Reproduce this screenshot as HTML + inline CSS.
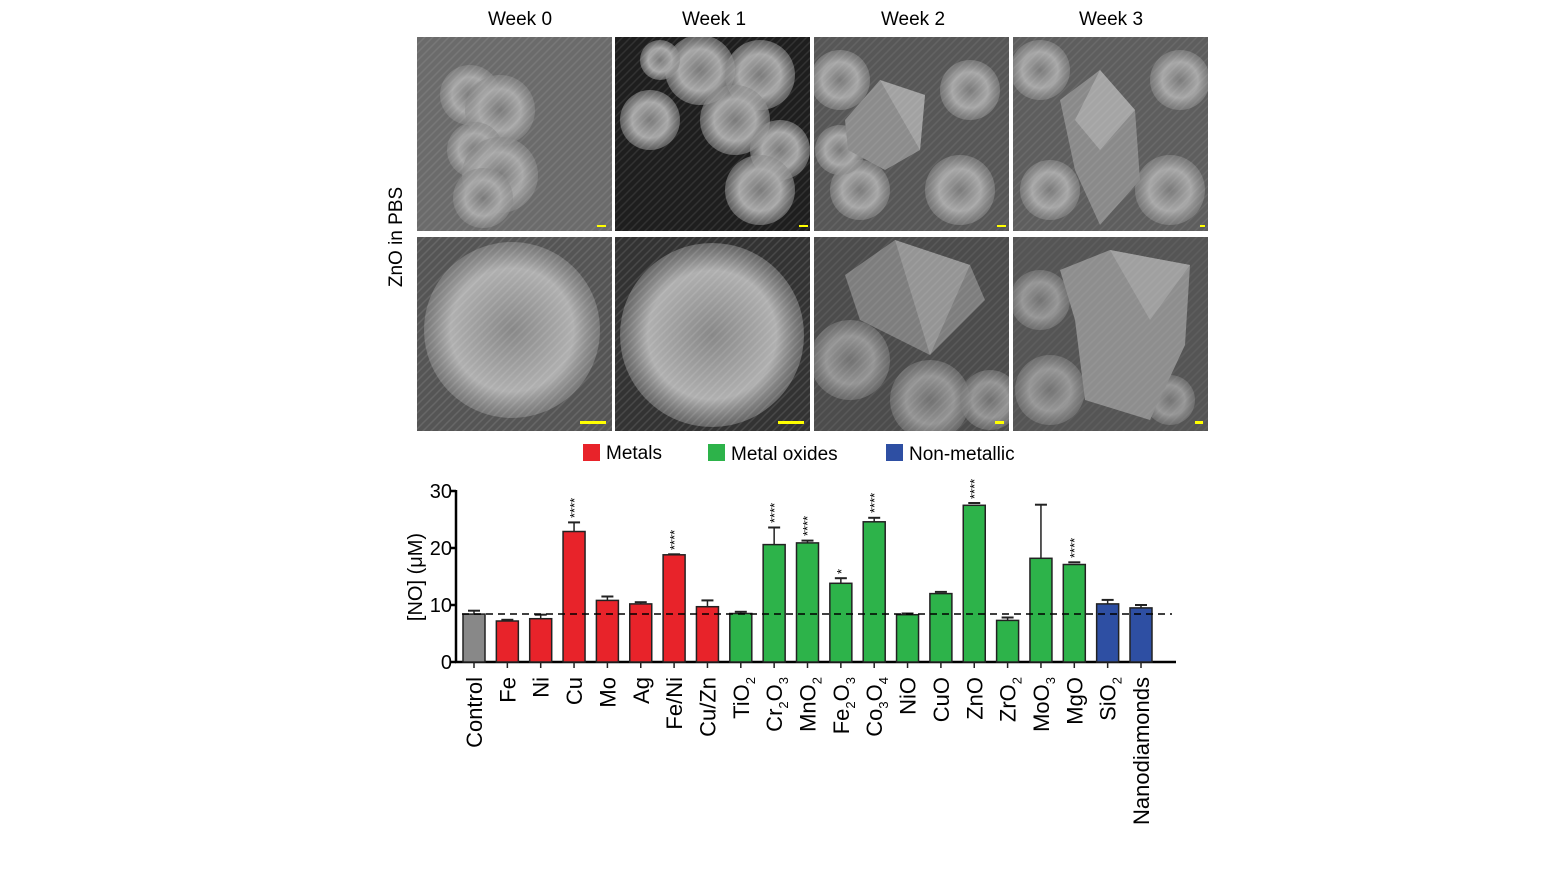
<!DOCTYPE html>
<html><head><meta charset="utf-8"><style>
body{margin:0;background:#fff;}
svg{display:block;font-family:"Liberation Sans",Arial,sans-serif;}
</style></head><body>
<svg width="1560" height="881" viewBox="0 0 1560 881">
<defs>
<radialGradient id="blob" cx="50%" cy="50%" r="50%"><stop offset="0" stop-color="#7a7a7a"/><stop offset="0.6" stop-color="#a8a8a8"/><stop offset="1" stop-color="#8a8a8a" stop-opacity="0.6"/></radialGradient>
<radialGradient id="blob2" cx="50%" cy="50%" r="50%"><stop offset="0" stop-color="#888"/><stop offset="0.7" stop-color="#b0b0b0"/><stop offset="1" stop-color="#999" stop-opacity="0.5"/></radialGradient>
<pattern id="tex" width="8" height="8" patternUnits="userSpaceOnUse"><path d="M0 8 L8 0 M-2 2 L2 -2 M6 10 L10 6" stroke="#ffffff" stroke-opacity="0.18" stroke-width="1.5"/></pattern>
</defs>
<g font-size="19" text-anchor="middle" fill="#000">
<text x="520" y="25">Week 0</text><text x="714" y="25">Week 1</text>
<text x="913" y="25">Week 2</text><text x="1111" y="25">Week 3</text>
</g>
<text font-size="19" text-anchor="middle" transform="translate(402,237) rotate(-90)">ZnO in PBS</text>

<svg x="417" y="37" width="195" height="194" viewBox="0 0 195 194">
<rect width="195" height="194" fill="#6b6b6b"/>
<g fill="url(#blob)"><circle cx="53" cy="58" r="30"/><circle cx="83" cy="73" r="35"/><circle cx="58" cy="113" r="28"/><circle cx="83" cy="138" r="38"/><circle cx="66" cy="161" r="30"/></g>
<rect width="195" height="194" fill="url(#tex)" opacity="0.5"/>
<rect x="180" y="188" width="9" height="2" fill="#ff0"/></svg>

<svg x="615" y="37" width="195" height="194" viewBox="0 0 195 194">
<rect width="195" height="194" fill="#1e1e1e"/>
<g fill="url(#blob)"><circle cx="85" cy="33" r="35"/><circle cx="145" cy="38" r="35"/><circle cx="35" cy="83" r="30"/><circle cx="120" cy="83" r="35"/><circle cx="165" cy="113" r="30"/><circle cx="145" cy="153" r="35"/><circle cx="45" cy="23" r="20"/></g>
<rect width="195" height="194" fill="url(#tex)" opacity="0.5"/>
<rect x="184" y="188" width="9" height="2" fill="#ff0"/></svg>

<svg x="814" y="37" width="195" height="194" viewBox="0 0 195 194">
<rect width="195" height="194" fill="#575757"/>
<g fill="url(#blob)"><circle cx="26" cy="43" r="30"/><circle cx="156" cy="53" r="30"/><circle cx="46" cy="153" r="30"/><circle cx="146" cy="153" r="35"/><circle cx="26" cy="113" r="25"/></g>
<polygon points="31,83 66,43 111,58 106,113 71,133 34,113" fill="#8c8c8c"/>
<polygon points="66,43 111,58 106,113" fill="#a2a2a2"/>
<rect width="195" height="194" fill="url(#tex)" opacity="0.4"/>
<rect x="183" y="188" width="9" height="2" fill="#ff0"/></svg>

<svg x="1013" y="37" width="195" height="194" viewBox="0 0 195 194">
<rect width="195" height="194" fill="#5e5e5e"/>
<g fill="url(#blob)"><circle cx="27" cy="33" r="30"/><circle cx="167" cy="43" r="30"/><circle cx="37" cy="153" r="30"/><circle cx="157" cy="153" r="35"/></g>
<polygon points="47,63 87,33 122,73 127,143 87,188 62,133" fill="#8a8a8a"/>
<polygon points="87,33 122,73 87,113 62,83" fill="#a5a5a5"/>
<rect width="195" height="194" fill="url(#tex)" opacity="0.4"/>
<rect x="187" y="188" width="5" height="2" fill="#ff0"/></svg>

<svg x="417" y="237" width="195" height="194" viewBox="0 0 195 194">
<rect width="195" height="194" fill="#555"/>
<circle cx="95" cy="93" r="88" fill="url(#blob2)"/>
<rect width="195" height="194" fill="url(#tex)" opacity="0.6"/>
<rect x="163" y="184" width="26" height="3" fill="#ff0"/></svg>

<svg x="615" y="237" width="195" height="194" viewBox="0 0 195 194">
<rect width="195" height="194" fill="#333"/>
<circle cx="97" cy="98" r="92" fill="url(#blob2)"/>
<rect width="195" height="194" fill="url(#tex)" opacity="0.6"/>
<rect x="163" y="184" width="26" height="3" fill="#ff0"/></svg>

<svg x="814" y="237" width="195" height="194" viewBox="0 0 195 194">
<rect width="195" height="194" fill="#4c4c4c"/>
<g fill="url(#blob)" opacity="0.8"><circle cx="36" cy="123" r="40"/><circle cx="116" cy="163" r="40"/><circle cx="176" cy="163" r="30"/></g>
<polygon points="31,38 81,3 156,28 171,63 116,118 46,83" fill="#7e7e7e"/>
<polygon points="81,3 156,28 116,118" fill="#959595"/>
<rect width="195" height="194" fill="url(#tex)" opacity="0.4"/>
<rect x="181" y="184" width="9" height="3" fill="#ff0"/></svg>

<svg x="1013" y="237" width="195" height="194" viewBox="0 0 195 194">
<rect width="195" height="194" fill="#555"/>
<g fill="url(#blob)" opacity="0.8"><circle cx="27" cy="63" r="30"/><circle cx="37" cy="153" r="35"/><circle cx="157" cy="163" r="25"/></g>
<polygon points="47,33 97,13 177,28 172,108 137,183 72,163 62,83" fill="#8e8e8e"/>
<polygon points="97,13 177,28 137,83" fill="#a0a0a0"/>
<rect width="195" height="194" fill="url(#tex)" opacity="0.3"/>
<rect x="182" y="184" width="8" height="3" fill="#ff0"/></svg>

<rect x="583" y="444" width="17" height="17" fill="#e8232a"/><text x="606" y="459" font-size="19">Metals</text>
<rect x="708" y="444" width="17" height="17" fill="#2db34a"/><text x="731" y="460" font-size="19">Metal oxides</text>
<rect x="886" y="444" width="17" height="17" fill="#2e4fa3"/><text x="909" y="460" font-size="19">Non-metallic</text>

<g stroke="#000" stroke-width="2.5">
<line x1="456" y1="490" x2="456" y2="663"/>
<line x1="455" y1="662" x2="1176" y2="662"/>
<line x1="450" y1="491" x2="456" y2="491"/><line x1="450" y1="548" x2="456" y2="548"/><line x1="450" y1="605" x2="456" y2="605"/><line x1="450" y1="662" x2="456" y2="662"/>
</g>
<g font-size="20" text-anchor="end"><text x="452" y="498">30</text><text x="452" y="555">20</text><text x="452" y="612">10</text><text x="452" y="669">0</text></g>
<text font-size="20" text-anchor="middle" transform="translate(422,577) rotate(-90)">[NO] (μM)</text>

<g stroke="#222" stroke-width="1.5">
<g transform="translate(474,0)"><line x1="0" y1="610.7" x2="0" y2="614"/><line x1="-6" y1="610.7" x2="6" y2="610.7" stroke-width="2"/><rect x="-11" y="614.1" width="22" height="47.9" fill="#888"/><line x1="0" y1="662" x2="0" y2="668"/></g>
<g transform="translate(507.35,0)"><line x1="0" y1="619.8" x2="0" y2="621"/><line x1="-6" y1="619.8" x2="6" y2="619.8" stroke-width="2"/><rect x="-11" y="621" width="22" height="41" fill="#e8232a"/><line x1="0" y1="662" x2="0" y2="668"/></g>
<g transform="translate(540.7,0)"><line x1="0" y1="614.7" x2="0" y2="618.7"/><line x1="-6" y1="614.7" x2="6" y2="614.7" stroke-width="2"/><rect x="-11" y="618.7" width="22" height="43.3" fill="#e8232a"/><line x1="0" y1="662" x2="0" y2="668"/></g>
<g transform="translate(574.05,0)"><line x1="0" y1="522.4" x2="0" y2="531.5"/><line x1="-6" y1="522.4" x2="6" y2="522.4" stroke-width="2"/><rect x="-11" y="531.5" width="22" height="130.5" fill="#e8232a"/><line x1="0" y1="662" x2="0" y2="668"/></g>
<g transform="translate(607.4,0)"><line x1="0" y1="596.5" x2="0" y2="600.4"/><line x1="-6" y1="596.5" x2="6" y2="596.5" stroke-width="2"/><rect x="-11" y="600.4" width="22" height="61.6" fill="#e8232a"/><line x1="0" y1="662" x2="0" y2="668"/></g>
<g transform="translate(640.75,0)"><line x1="0" y1="602.2" x2="0" y2="603.9"/><line x1="-6" y1="602.2" x2="6" y2="602.2" stroke-width="2"/><rect x="-11" y="603.9" width="22" height="58.1" fill="#e8232a"/><line x1="0" y1="662" x2="0" y2="668"/></g>
<g transform="translate(674.1,0)"><line x1="-6" y1="554.3" x2="6" y2="554.3" stroke-width="2"/><rect x="-11" y="554.8" width="22" height="107.2" fill="#e8232a"/><line x1="0" y1="662" x2="0" y2="668"/></g>
<g transform="translate(707.45,0)"><line x1="0" y1="600.4" x2="0" y2="606.7"/><line x1="-6" y1="600.4" x2="6" y2="600.4" stroke-width="2"/><rect x="-11" y="606.7" width="22" height="55.3" fill="#e8232a"/><line x1="0" y1="662" x2="0" y2="668"/></g>
<g transform="translate(740.8,0)"><line x1="0" y1="611.8" x2="0" y2="613.5"/><line x1="-6" y1="611.8" x2="6" y2="611.8" stroke-width="2"/><rect x="-11" y="613.5" width="22" height="48.5" fill="#2db34a"/><line x1="0" y1="662" x2="0" y2="668"/></g>
<g transform="translate(774.15,0)"><line x1="0" y1="527.5" x2="0" y2="544.6"/><line x1="-6" y1="527.5" x2="6" y2="527.5" stroke-width="2"/><rect x="-11" y="544.6" width="22" height="117.4" fill="#2db34a"/><line x1="0" y1="662" x2="0" y2="668"/></g>
<g transform="translate(807.5,0)"><line x1="0" y1="540.6" x2="0" y2="542.9"/><line x1="-6" y1="540.6" x2="6" y2="540.6" stroke-width="2"/><rect x="-11" y="542.9" width="22" height="119.1" fill="#2db34a"/><line x1="0" y1="662" x2="0" y2="668"/></g>
<g transform="translate(840.85,0)"><line x1="0" y1="578.2" x2="0" y2="583.3"/><line x1="-6" y1="578.2" x2="6" y2="578.2" stroke-width="2"/><rect x="-11" y="583.3" width="22" height="78.7" fill="#2db34a"/><line x1="0" y1="662" x2="0" y2="668"/></g>
<g transform="translate(874.2,0)"><line x1="0" y1="517.8" x2="0" y2="521.8"/><line x1="-6" y1="517.8" x2="6" y2="517.8" stroke-width="2"/><rect x="-11" y="521.8" width="22" height="140.2" fill="#2db34a"/><line x1="0" y1="662" x2="0" y2="668"/></g>
<g transform="translate(907.55,0)"><line x1="-6" y1="613.5" x2="6" y2="613.5" stroke-width="2"/><rect x="-11" y="614.7" width="22" height="47.3" fill="#2db34a"/><line x1="0" y1="662" x2="0" y2="668"/></g>
<g transform="translate(940.9,0)"><line x1="-6" y1="591.9" x2="6" y2="591.9" stroke-width="2"/><rect x="-11" y="593.6" width="22" height="68.4" fill="#2db34a"/><line x1="0" y1="662" x2="0" y2="668"/></g>
<g transform="translate(974.25,0)"><line x1="-6" y1="503" x2="6" y2="503" stroke-width="2"/><rect x="-11" y="505.3" width="22" height="156.7" fill="#2db34a"/><line x1="0" y1="662" x2="0" y2="668"/></g>
<g transform="translate(1007.6,0)"><line x1="0" y1="617.5" x2="0" y2="620.4"/><line x1="-6" y1="617.5" x2="6" y2="617.5" stroke-width="2"/><rect x="-11" y="620.4" width="22" height="41.6" fill="#2db34a"/><line x1="0" y1="662" x2="0" y2="668"/></g>
<g transform="translate(1040.95,0)"><line x1="0" y1="504.7" x2="0" y2="558.3"/><line x1="-6" y1="504.7" x2="6" y2="504.7" stroke-width="2"/><rect x="-11" y="558.3" width="22" height="103.7" fill="#2db34a"/><line x1="0" y1="662" x2="0" y2="668"/></g>
<g transform="translate(1074.3,0)"><line x1="-6" y1="562.3" x2="6" y2="562.3" stroke-width="2"/><rect x="-11" y="564.5" width="22" height="97.5" fill="#2db34a"/><line x1="0" y1="662" x2="0" y2="668"/></g>
<g transform="translate(1107.65,0)"><line x1="0" y1="599.9" x2="0" y2="603.9"/><line x1="-6" y1="599.9" x2="6" y2="599.9" stroke-width="2"/><rect x="-11" y="603.9" width="22" height="58.1" fill="#2e4fa3"/><line x1="0" y1="662" x2="0" y2="668"/></g>
<g transform="translate(1141,0)"><line x1="0" y1="605" x2="0" y2="607.9"/><line x1="-6" y1="605" x2="6" y2="605" stroke-width="2"/><rect x="-11" y="607.9" width="22" height="54.1" fill="#2e4fa3"/><line x1="0" y1="662" x2="0" y2="668"/></g>
</g>
<line x1="462" y1="614" x2="1172" y2="614" stroke="#000" stroke-width="1.6" stroke-dasharray="7,5"/>

<g font-size="13">
<text transform="translate(579,518) rotate(-90)">****</text>
<text transform="translate(679,550) rotate(-90)">****</text>
<text transform="translate(779,523) rotate(-90)">****</text>
<text transform="translate(812,536) rotate(-90)">****</text>
<text transform="translate(846,574) rotate(-90)">*</text>
<text transform="translate(879,513) rotate(-90)">****</text>
<text transform="translate(979,499) rotate(-90)">****</text>
<text transform="translate(1079,558) rotate(-90)">****</text>
</g>

<g font-size="22" text-anchor="end">
<text transform="translate(482,677) rotate(-90)">Control</text>
<text transform="translate(515.35,677) rotate(-90)">Fe</text>
<text transform="translate(548.7,677) rotate(-90)">Ni</text>
<text transform="translate(582.05,677) rotate(-90)">Cu</text>
<text transform="translate(615.4,677) rotate(-90)">Mo</text>
<text transform="translate(648.75,677) rotate(-90)">Ag</text>
<text transform="translate(682.1,677) rotate(-90)">Fe/Ni</text>
<text transform="translate(715.45,677) rotate(-90)">Cu/Zn</text>
<text transform="translate(748.8,677) rotate(-90)">TiO<tspan font-size="13" dy="6">2</tspan></text>
<text transform="translate(782.15,677) rotate(-90)">Cr<tspan font-size="13" dy="6">2</tspan><tspan dy="-6">O</tspan><tspan font-size="13" dy="6">3</tspan></text>
<text transform="translate(815.5,677) rotate(-90)">MnO<tspan font-size="13" dy="6">2</tspan></text>
<text transform="translate(848.85,677) rotate(-90)">Fe<tspan font-size="13" dy="6">2</tspan><tspan dy="-6">O</tspan><tspan font-size="13" dy="6">3</tspan></text>
<text transform="translate(882.2,677) rotate(-90)">Co<tspan font-size="13" dy="6">3</tspan><tspan dy="-6">O</tspan><tspan font-size="13" dy="6">4</tspan></text>
<text transform="translate(915.55,677) rotate(-90)">NiO</text>
<text transform="translate(948.9,677) rotate(-90)">CuO</text>
<text transform="translate(982.25,677) rotate(-90)">ZnO</text>
<text transform="translate(1015.6,677) rotate(-90)">ZrO<tspan font-size="13" dy="6">2</tspan></text>
<text transform="translate(1048.95,677) rotate(-90)">MoO<tspan font-size="13" dy="6">3</tspan></text>
<text transform="translate(1082.3,677) rotate(-90)">MgO</text>
<text transform="translate(1115.65,677) rotate(-90)">SiO<tspan font-size="13" dy="6">2</tspan></text>
<text transform="translate(1149,677) rotate(-90)">Nanodiamonds</text>
</g>
</svg>
</body></html>
